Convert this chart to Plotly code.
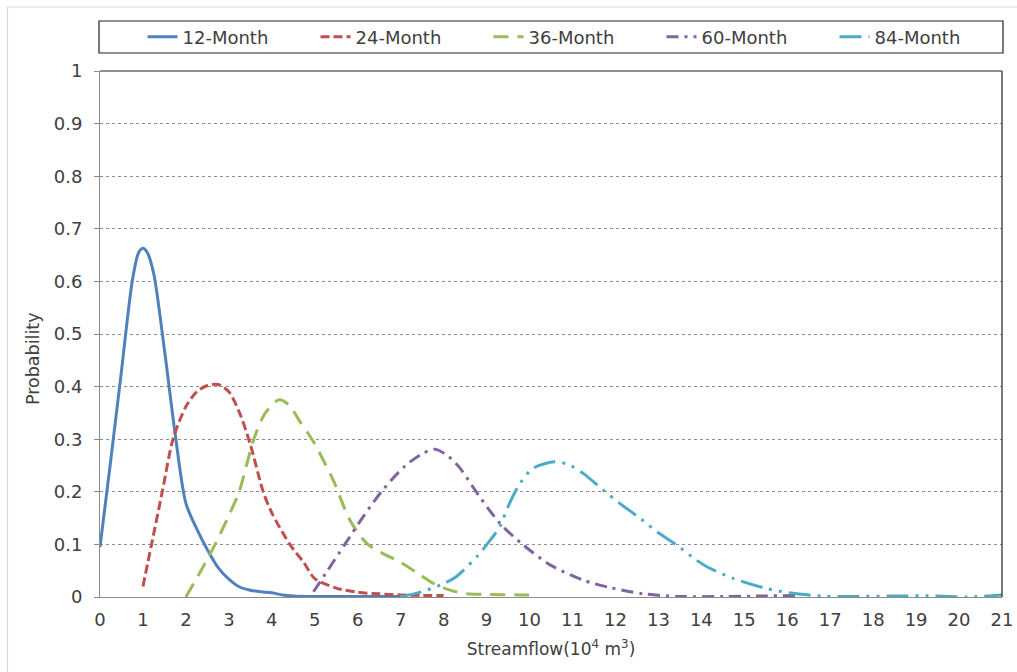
import plotly.graph_objects as go

# ---- data ----
x12 = [0, 0.25, 0.5, 0.75, 0.9, 1.0, 1.1, 1.25, 1.5, 1.75, 2.0, 2.25, 2.5, 2.75, 3.0, 3.25, 3.5, 3.75, 4.0, 4.25, 4.5, 5.0, 6.0, 7.0]
y12 = [0.095, 0.26, 0.43, 0.6, 0.655, 0.663, 0.655, 0.615, 0.47, 0.31, 0.178, 0.13, 0.09, 0.056, 0.034, 0.019, 0.013, 0.01, 0.008, 0.004, 0.002, 0.001, 0.001, 0.001]

x24 = [1.0, 1.2, 1.45, 1.7, 2.0, 2.25, 2.5, 2.75, 3.0, 3.25, 3.5, 3.8, 4.0, 4.42, 4.75, 5.0, 5.5, 6.0, 6.5, 7.0, 7.5, 8.0]
y24 = [0.02, 0.1, 0.2, 0.3, 0.362, 0.39, 0.402, 0.404, 0.39, 0.35, 0.29, 0.2, 0.16, 0.1, 0.065, 0.035, 0.017, 0.009, 0.006, 0.004, 0.003, 0.003]

x36 = [2.0, 2.35, 2.68, 3.0, 3.24, 3.58, 3.85, 4.17, 4.4, 4.66, 4.97, 5.43, 5.82, 6.21, 6.6, 6.98, 7.4, 7.76, 8.15, 8.54, 9.0, 9.78, 10.0]
y36 = [0.0, 0.05, 0.1, 0.155, 0.2, 0.3, 0.35, 0.375, 0.365, 0.333, 0.295, 0.222, 0.146, 0.102, 0.082, 0.067, 0.045, 0.026, 0.013, 0.006, 0.005, 0.004, 0.004]

x60 = [4.97, 5.28, 5.7, 6.13, 6.58, 7.1, 7.5, 7.8, 8.1, 8.38, 8.81, 9.31, 9.84, 10.48, 11.25, 11.87, 12.65, 13.5, 14.5, 15.5, 16.2]
y60 = [0.01, 0.048, 0.1, 0.153, 0.203, 0.249, 0.272, 0.281, 0.268, 0.245, 0.194, 0.14, 0.1, 0.061, 0.032, 0.018, 0.006, 0.001, 0.001, 0.002, 0.003]

x84 = [6.98, 7.49, 7.99, 8.3, 8.81, 9.0, 9.31, 9.5, 9.78, 10.09, 10.59, 10.9, 11.25, 11.72, 12.1, 12.57, 13.0, 13.42, 13.89, 14.12, 14.75, 15.52, 16.14, 16.8, 17.5, 18.5, 19.5, 20.2, 21.0]
y84 = [0.0, 0.01, 0.025, 0.039, 0.08, 0.099, 0.134, 0.172, 0.216, 0.245, 0.257, 0.252, 0.235, 0.203, 0.178, 0.15, 0.122, 0.099, 0.07, 0.058, 0.035, 0.016, 0.007, 0.002, 0.001, 0.002, 0.002, 0.0, 0.004]

names = ["12-Month", "24-Month", "36-Month", "60-Month", "84-Month"]
x_ticks = list(range(0, 22))
y_ticks = [round(i * 0.1, 1) for i in range(11)]
y_tick_text = ["0", "0.1", "0.2", "0.3", "0.4", "0.5", "0.6", "0.7", "0.8", "0.9", "1"]

colors = ["#4F81BD", "#C0504D", "#9BBB59", "#8064A2", "#4BACC6"]
dashes = ["solid", "9px,4px", "15px,9px", "12px,6px,3px,6px", "22px,7px,3px,7px,3px,7px"]

FONT = "DejaVu Sans, sans-serif"
TXT = "#404040"

fig = go.Figure()
for xs, ys, nm, c, d in zip([x12, x24, x36, x60, x84], [y12, y24, y36, y60, y84], names, colors, dashes):
    fig.add_trace(go.Scatter(
        x=xs, y=ys, name=nm, mode="lines",
        line=dict(color=c, width=3, dash=d, shape="spline", smoothing=0.8),
    ))

L, R, T, B = 100, 15, 71, 75
W, H = 1017, 672
pw, ph = W - L - R, H - T - B

def px_x(p):
    return (p - L) / pw

def px_y(p):
    return (H - B - p) / ph

fig.update_layout(
    width=W, height=H,
    margin=dict(l=L, r=R, t=T, b=B, autoexpand=False),
    paper_bgcolor="white", plot_bgcolor="white",
    font=dict(family=FONT, size=18, color=TXT),
    showlegend=True,
    legend=dict(
        orientation="h", x=px_x(575), xanchor="center",
        y=px_y(37), yanchor="middle",
        bgcolor="rgba(0,0,0,0)", borderwidth=0,
        font=dict(family=FONT, size=18, color=TXT),
        entrywidth=128, entrywidthmode="pixels",
    ),
    xaxis=dict(
        range=[0, 21], tickmode="array", tickvals=x_ticks,
        ticktext=[str(v) for v in x_ticks],
        showgrid=False, zeroline=False,
        showline=True, linecolor="#8c8c8c", linewidth=1,
        ticks="", ticklabelstandoff=6,
        tickfont=dict(family=FONT, size=18, color=TXT),
        title=dict(text="Streamflow(10<sup>4</sup> m<sup>3</sup>)",
                   font=dict(family=FONT, size=17, color=TXT), standoff=14),
    ),
    yaxis=dict(
        range=[0, 1], tickmode="array", tickvals=y_ticks, ticktext=y_tick_text,
        showgrid=True, gridcolor="#8c8c8c", gridwidth=1, griddash="dot",
        zeroline=False,
        showline=True, linecolor="#8c8c8c", linewidth=1,
        ticks="outside", ticklen=5, tickcolor="#8c8c8c",
        ticklabelstandoff=8,
        tickfont=dict(family=FONT, size=18, color=TXT),
    ),
    annotations=[
        dict(text="Probability", textangle=-90, showarrow=False,
             xref="paper", yref="paper", x=px_x(33), y=px_y(359),
             xanchor="center", yanchor="middle",
             font=dict(family=FONT, size=17.5, color=TXT)),
    ],
    shapes=[
        dict(type="line", xref="paper", yref="paper", x0=0, x1=1, y0=1, y1=1,
             line=dict(color="#222222", width=1.2)),
        dict(type="line", xref="paper", yref="paper", x0=1, x1=1, y0=0, y1=1,
             line=dict(color="#222222", width=1.2)),
        dict(type="rect", xref="paper", yref="paper",
             x0=px_x(99), x1=px_x(1003), y0=px_y(53), y1=px_y(21),
             line=dict(color="#222222", width=1.2), fillcolor="rgba(0,0,0,0)"),
        dict(type="rect", xref="paper", yref="paper",
             x0=px_x(7.5), x1=px_x(1040), y0=px_y(700), y1=px_y(7),
             line=dict(color="#d9d9d9", width=1.2), fillcolor="rgba(0,0,0,0)"),
    ],
)

fig.write_html("out.html")
